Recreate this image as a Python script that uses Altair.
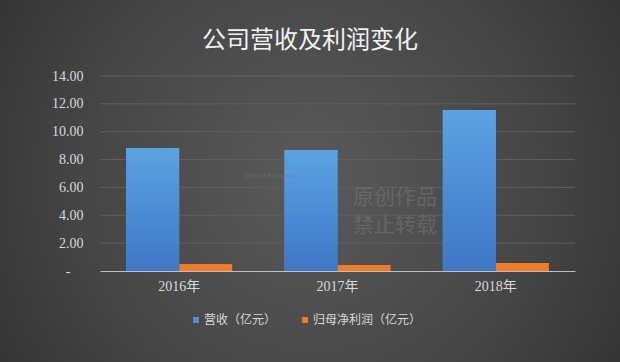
import altair as alt
import pandas as pd

years = ["2016年", "2017年", "2018年"]
series = ["营收（亿元）", "归母净利润（亿元）"]
revenue = [8.83, 8.69, 11.56]
profit = [0.50, 0.43, 0.57]
y_ticks = [0, 2, 4, 6, 8, 10, 12, 14]

rows = []
for i, y in enumerate(years):
    rows.append({"year": y, "series": series[0], "value": revenue[i]})
    rows.append({"year": y, "series": series[1], "value": profit[i]})
df = pd.DataFrame(rows)

SERIF = "Liberation Serif, Noto Sans CJK SC"
SANS = "Noto Sans CJK SC"

bg = alt.Chart(alt.Data(values=[{"a": 1}])).mark_rect(
    color=alt.RadialGradient(
        gradient="radial",
        stops=[alt.GradientStop(color="#5a5a5a", offset=0),
               alt.GradientStop(color="#454545", offset=0.5),
               alt.GradientStop(color="#272727", offset=1)],
        x1=0.5, y1=0.5, r1=0, x2=0.5, y2=0.5, r2=0.75),
).encode(x=alt.value(-100), x2=alt.value(520), y=alt.value(-76), y2=alt.value(286))

yscale = alt.Scale(domain=[0, 14], nice=False)
yaxis = alt.Axis(values=y_ticks, labelFont=SERIF, labelFontSize=14,
                 labelColor="#d9d9d9",
                 labelPadding={"condition": {"test": "datum.value == 0", "value": 30}, "value": 17},
                 ticks=False, domain=False, grid=False, zindex=1, title=None,
                 labelExpr="datum.value == 0 ? '-' : format(datum.value, '.2f')")

grid = alt.Chart(pd.DataFrame({"v": y_ticks[1:]})).mark_rule(
    color="#606060", strokeWidth=1
).encode(y=alt.Y("v:Q", scale=yscale, axis=yaxis, title=None))

xenc = alt.X("year:N", sort=years, title=None,
             scale=alt.Scale(paddingInner=0.33, paddingOuter=0.165),
             axis=alt.Axis(labelAngle=0, labelFont=SERIF, labelFontSize=14,
                           labelColor="#d9d9d9", labelPadding=8, ticks=False,
                           domainColor="#bfbfbf", domainWidth=1, grid=False, zindex=1))
yenc = alt.Y("value:Q", title=None, scale=yscale, axis=yaxis)
xoff = alt.XOffset("series:N", sort=series, scale=alt.Scale(paddingInner=0, paddingOuter=0))

bars = alt.Chart(df).mark_bar().encode(
    x=xenc, y=yenc, xOffset=xoff,
    color=alt.Color("series:N", sort=series,
                    scale=alt.Scale(domain=series, range=["#4a8fd8", "#f07b2a"]),
                    legend=alt.Legend(title=None, orient="none", direction="horizontal",
                                      legendX=90, legendY=238, symbolType="square",
                                      symbolSize=36, symbolStrokeWidth=0,
                                      labelFont=SANS, labelFontSize=12,
                                      labelColor="#d9d9d9", columnPadding=22,
                                      labelOffset=2)),
)

blue = alt.Chart(df).transform_filter(
    alt.datum.series == series[0]
).mark_bar(
    color=alt.LinearGradient(
        gradient="linear",
        stops=[alt.GradientStop(color="#5ca2e2", offset=0),
               alt.GradientStop(color="#3e77c6", offset=1)],
        x1=0, x2=0, y1=0, y2=1)
).encode(x=alt.X("year:N", sort=years), y=yenc, xOffset=alt.XOffset("series:N", sort=series))

wm = alt.Chart(alt.Data(values=[
    {"t": "原创作品", "py": 122},
    {"t": "禁止转载", "py": 150},
])).mark_text(font=SANS, fontSize=21, color="#7a7a7a", opacity=0.5, align="left", baseline="middle").encode(
    text="t:N", x=alt.value(253), y=alt.Y("py:Q", scale=None))

wm2 = alt.Chart(alt.Data(values=[{"t": "Bread Finance"}])).mark_text(
    font="Liberation Sans", fontSize=8, color="#7a7a7a", opacity=0.5, align="left", baseline="middle").encode(
    text="t:N", x=alt.value(144), y=alt.value(100))

title = alt.Chart(alt.Data(values=[{"t": "公司营收及利润变化"}])).mark_text(
    font=SANS, fontSize=24, color="#f2f2f2", align="center", baseline="middle").encode(
    text="t:N", x=alt.value(210), y=alt.value(-35))

chart = alt.layer(bg, grid, bars, blue, wm, wm2, title).properties(
    width=475, height=195,
    padding={"left": 100, "top": 76, "right": 45, "bottom": 91},
    autosize=alt.AutoSizeParams(type="none"),
).resolve_scale(y="shared").configure(background="#3a3a3a").configure_view(stroke=None)

chart.save("out.html", embed_options={"renderer": "svg", "actions": False})
